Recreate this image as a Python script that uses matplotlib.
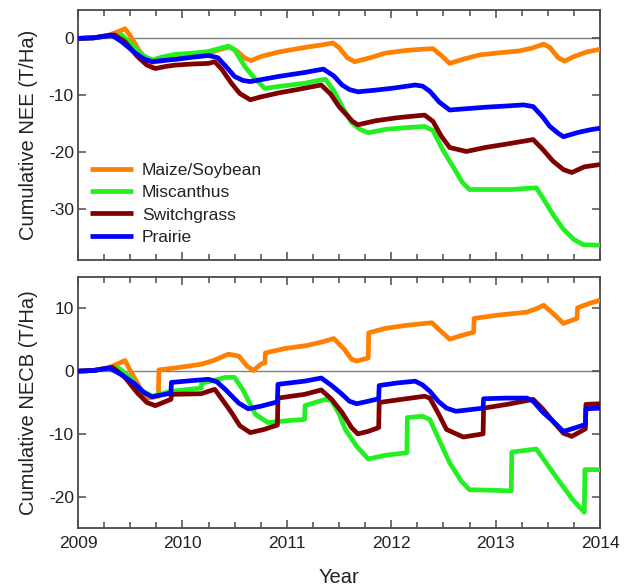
import matplotlib
matplotlib.use("Agg")
import matplotlib.pyplot as plt
from matplotlib.ticker import MultipleLocator, FixedLocator

plt.rcParams['font.family'] = ['Liberation Sans', 'DejaVu Sans']
plt.rcParams['axes.unicode_minus'] = False

series_names = ["Maize/Soybean", "Miscanthus", "Switchgrass", "Prairie"]
series_colors = ["#FF8000", "#22F022", "#800000", "#0000FF"]

# ---------------- Cumulative NEE (T/Ha) ----------------
maize_nee_t = [2009.00, 2009.15, 2009.30, 2009.40, 2009.45, 2009.50, 2009.58, 2009.65, 2009.72, 2009.80,
               2009.95, 2010.10, 2010.25, 2010.35, 2010.45, 2010.52, 2010.60, 2010.66, 2010.75, 2010.92,
               2011.17, 2011.35, 2011.44, 2011.50, 2011.58, 2011.65, 2011.80, 2011.94, 2012.15, 2012.30,
               2012.40, 2012.48, 2012.56, 2012.70, 2012.85, 2013.05, 2013.23, 2013.35, 2013.46, 2013.52,
               2013.60, 2013.66, 2013.75, 2013.87, 2014.00]
maize_nee_v = [0.0, 0.1, 0.6, 1.3, 1.7, 0.5, -2.0, -3.6, -4.2, -4.0,
               -3.4, -3.2, -2.6, -2.0, -1.5, -2.2, -3.5, -3.9, -3.2, -2.4,
               -1.6, -1.1, -0.8, -1.6, -3.4, -4.1, -3.4, -2.6, -2.1, -1.9,
               -1.8, -3.0, -4.4, -3.6, -2.9, -2.5, -2.2, -1.7, -1.0, -1.6,
               -3.4, -4.0, -3.2, -2.4, -1.9]

misc_nee_t = [2009.00, 2009.15, 2009.30, 2009.42, 2009.50, 2009.61, 2009.71, 2009.80, 2009.93, 2010.10,
              2010.25, 2010.35, 2010.44, 2010.50, 2010.60, 2010.70, 2010.79, 2010.95, 2011.17, 2011.30,
              2011.37, 2011.45, 2011.53, 2011.62, 2011.70, 2011.78, 2011.95, 2012.15, 2012.32, 2012.40,
              2012.50, 2012.60, 2012.68, 2012.75, 2012.90, 2013.15, 2013.30, 2013.39, 2013.45, 2013.55,
              2013.65, 2013.75, 2013.84, 2014.00]
misc_nee_v = [0.0, 0.1, 0.5, 0.6, -0.8, -2.9, -3.8, -3.3, -2.8, -2.6,
              -2.3, -1.8, -1.35, -2.0, -5.0, -7.2, -8.8, -8.4, -7.9, -7.4,
              -7.2, -9.2, -12.0, -14.8, -16.0, -16.6, -16.0, -15.7, -15.5, -16.2,
              -19.8, -22.8, -25.3, -26.6, -26.6, -26.6, -26.4, -26.3, -28.0, -31.0,
              -33.6, -35.4, -36.3, -36.4]

sg_nee_t = [2009.00, 2009.15, 2009.35, 2009.45, 2009.57, 2009.66, 2009.74, 2009.85, 2009.93, 2010.10,
            2010.25, 2010.31, 2010.38, 2010.47, 2010.55, 2010.65, 2010.75, 2010.92, 2011.10, 2011.33,
            2011.42, 2011.50, 2011.56, 2011.63, 2011.68, 2011.85, 2012.04, 2012.20, 2012.32, 2012.40,
            2012.48, 2012.56, 2012.72, 2012.90, 2013.07, 2013.20, 2013.36, 2013.45, 2013.55, 2013.65,
            2013.73, 2013.85, 2014.00]
sg_nee_v = [0.0, 0.1, 0.6, -0.6, -3.2, -4.7, -5.3, -4.9, -4.7, -4.5,
            -4.4, -4.1, -5.5, -7.9, -9.7, -10.8, -10.3, -9.6, -9.0, -8.2,
            -9.8, -12.0, -13.2, -14.6, -15.2, -14.5, -14.0, -13.7, -13.5, -14.6,
            -17.2, -19.2, -19.9, -19.2, -18.7, -18.3, -17.8, -19.5, -21.6, -23.1,
            -23.6, -22.6, -22.2]

pr_nee_t = [2009.00, 2009.15, 2009.32, 2009.42, 2009.55, 2009.63, 2009.71, 2009.80, 2009.93, 2010.10,
            2010.25, 2010.34, 2010.42, 2010.50, 2010.58, 2010.65, 2010.80, 2010.92, 2011.17, 2011.35,
            2011.45, 2011.53, 2011.60, 2011.68, 2011.85, 2012.00, 2012.23, 2012.30, 2012.37, 2012.46,
            2012.56, 2012.70, 2012.91, 2013.10, 2013.27, 2013.36, 2013.45, 2013.52, 2013.60, 2013.65,
            2013.78, 2013.90, 2014.00]
pr_nee_v = [0.0, 0.1, 0.6, -0.6, -2.6, -3.6, -4.1, -3.9, -3.7, -3.3,
            -3.0, -3.4, -5.0, -6.7, -7.4, -7.6, -7.1, -6.7, -6.0, -5.4,
            -6.6, -8.2, -9.0, -9.4, -9.1, -8.8, -8.2, -8.4, -9.3, -11.2,
            -12.6, -12.4, -12.1, -11.9, -11.7, -12.0, -13.8, -15.5, -16.7, -17.3,
            -16.6, -16.1, -15.8]

# ---------------- Cumulative NECB (T/Ha) ----------------
maize_necb_t = [2009.00, 2009.15, 2009.30, 2009.40, 2009.45, 2009.52, 2009.60, 2009.67, 2009.77, 2009.775,
                2009.93, 2010.18, 2010.30, 2010.44, 2010.54, 2010.62, 2010.68, 2010.76, 2010.79, 2010.795,
                2010.98, 2011.20, 2011.35, 2011.45, 2011.55, 2011.62, 2011.67, 2011.78, 2011.785, 2011.94,
                2012.15, 2012.32, 2012.39, 2012.48, 2012.56, 2012.70, 2012.79, 2012.795, 2013.01, 2013.30,
                2013.40, 2013.46, 2013.55, 2013.65, 2013.78, 2013.785, 2013.90, 2014.00]
maize_necb_v = [0.0, 0.1, 0.6, 1.3, 1.7, -0.5, -2.8, -4.3, -4.0, 0.2,
                0.5, 1.1, 1.7, 2.7, 2.4, 0.8, 0.1, 1.2, 1.3, 2.9,
                3.6, 4.1, 4.7, 5.2, 3.5, 1.9, 1.6, 2.1, 6.1, 6.8,
                7.3, 7.6, 7.7, 6.3, 5.1, 5.8, 6.2, 8.4, 8.9, 9.4,
                10.0, 10.5, 9.2, 7.6, 8.4, 10.1, 10.8, 11.3]

misc_necb_t = [2009.00, 2009.15, 2009.30, 2009.38, 2009.50, 2009.60, 2009.71, 2009.90, 2010.18, 2010.185,
               2010.30, 2010.41, 2010.50, 2010.58, 2010.70, 2010.82, 2011.00, 2011.17, 2011.175, 2011.37,
               2011.43, 2011.50, 2011.56, 2011.67, 2011.78, 2011.95, 2012.15, 2012.155, 2012.30, 2012.37,
               2012.46, 2012.56, 2012.67, 2012.75, 2013.00, 2013.15, 2013.155, 2013.30, 2013.39, 2013.50,
               2013.62, 2013.74, 2013.85, 2013.855, 2014.00]
misc_necb_v = [0.0, 0.1, 0.5, 0.6, -1.0, -3.0, -4.0, -3.2, -2.7, -1.9,
               -1.5, -1.0, -1.0, -3.0, -6.9, -8.2, -7.9, -7.7, -5.5, -4.5,
               -4.7, -6.8, -9.3, -12.0, -14.0, -13.4, -13.0, -7.4, -7.2, -7.7,
               -11.0, -14.6, -17.5, -18.9, -19.0, -19.1, -12.9, -12.6, -12.4, -15.0,
               -17.8, -20.5, -22.5, -15.7, -15.7]

sg_necb_t = [2009.00, 2009.15, 2009.33, 2009.45, 2009.57, 2009.66, 2009.74, 2009.89, 2009.895, 2010.18,
             2010.31, 2010.38, 2010.47, 2010.55, 2010.65, 2010.78, 2010.91, 2010.915, 2011.17, 2011.33,
             2011.43, 2011.53, 2011.62, 2011.68, 2011.78, 2011.88, 2011.885, 2012.10, 2012.32, 2012.37,
             2012.45, 2012.53, 2012.69, 2012.88, 2012.885, 2013.11, 2013.36, 2013.45, 2013.55, 2013.65,
             2013.73, 2013.86, 2013.865, 2014.00]
sg_necb_v = [0.0, 0.1, 0.6, -1.0, -3.5, -5.0, -5.5, -4.5, -3.7, -3.6,
             -2.9, -4.5, -6.6, -8.7, -9.8, -9.3, -8.6, -4.3, -3.7, -3.0,
             -4.5, -6.6, -9.0, -10.0, -9.6, -9.0, -5.0, -4.5, -4.0, -4.3,
             -6.7, -9.3, -10.5, -10.0, -5.9, -5.3, -4.5, -6.0, -8.0, -9.9,
             -10.4, -9.2, -5.3, -5.2]

pr_necb_t = [2009.00, 2009.15, 2009.30, 2009.42, 2009.55, 2009.63, 2009.71, 2009.89, 2009.895, 2010.10,
             2010.25, 2010.33, 2010.41, 2010.54, 2010.63, 2010.75, 2010.91, 2010.915, 2011.17, 2011.33,
             2011.43, 2011.53, 2011.60, 2011.67, 2011.78, 2011.88, 2011.885, 2012.05, 2012.23, 2012.30,
             2012.37, 2012.45, 2012.53, 2012.62, 2012.88, 2012.885, 2013.10, 2013.30, 2013.36, 2013.45,
             2013.55, 2013.65, 2013.75, 2013.86, 2013.865, 2014.00]
pr_necb_v = [0.0, 0.1, 0.5, -0.6, -2.1, -3.4, -4.1, -3.5, -1.8, -1.5,
             -1.3, -1.7, -2.9, -5.1, -6.0, -5.6, -4.9, -2.1, -1.6, -1.1,
             -2.3, -3.7, -4.8, -5.2, -4.8, -4.4, -2.3, -1.9, -1.6, -2.2,
             -3.2, -4.8, -5.9, -6.4, -5.9, -4.4, -4.3, -4.3, -4.8, -6.5,
             -8.0, -9.6, -9.1, -8.5, -6.0, -5.9]

year_ticks = [2009, 2010, 2011, 2012, 2013, 2014]
nee_ticks = [0, -10, -20, -30]
necb_ticks = [10, 0, -10, -20]

W, H = 632, 586
fig = plt.figure(figsize=(W / 100, H / 100), dpi=100)
ax1 = fig.add_axes([78 / W, 1 - 260 / H, 522 / W, 250 / H])
ax2 = fig.add_axes([78 / W, 1 - 528 / H, 522 / W, 251 / H])

spine_c = "#4a4a4a"
for ax in (ax1, ax2):
    ax.axhline(0, color="#808080", lw=1.0, zorder=1)
    for s in ax.spines.values():
        s.set_color(spine_c)
        s.set_linewidth(1.3)
    ax.set_xlim(2009, 2014)
    ax.xaxis.set_major_locator(FixedLocator(year_ticks))
    ax.xaxis.set_minor_locator(MultipleLocator(0.25))
    ax.tick_params(axis="both", which="major", direction="in", top=True, right=True,
                   length=6, width=1.1, color=spine_c, labelsize=12.5, labelcolor="#222222")
    ax.tick_params(axis="both", which="minor", direction="in", top=True, right=True,
                   length=4, width=1.1, color=spine_c)
    ax.tick_params(axis="y", pad=3)
    ax.tick_params(axis="x", pad=6)

nee = [(maize_nee_t, maize_nee_v), (misc_nee_t, misc_nee_v), (sg_nee_t, sg_nee_v), (pr_nee_t, pr_nee_v)]
necb = [(maize_necb_t, maize_necb_v), (misc_necb_t, misc_necb_v), (sg_necb_t, sg_necb_v), (pr_necb_t, pr_necb_v)]

for (t, v), name, c in zip(nee, series_names, series_colors):
    ax1.plot(t, v, color=c, lw=3.4, label=name, solid_joinstyle="round", solid_capstyle="butt", zorder=3)
for (t, v), name, c in zip(necb, series_names, series_colors):
    ax2.plot(t, v, color=c, lw=3.4, label=name, solid_joinstyle="round", solid_capstyle="butt", zorder=3)

ax1.set_ylim(-39, 5)
ax1.yaxis.set_major_locator(FixedLocator(nee_ticks))
ax1.tick_params(axis="x", labelbottom=False)
ax2.set_ylim(-25, 15)
ax2.yaxis.set_major_locator(FixedLocator(necb_ticks))

ax1.set_ylabel("Cumulative NEE (T/Ha)", fontsize=14.5, color="#222222", labelpad=8)
ax2.set_ylabel("Cumulative NECB (T/Ha)", fontsize=14.5, color="#222222", labelpad=8)
ax2.set_xlabel("Year", fontsize=14.5, color="#222222", labelpad=12)

leg = ax1.legend(loc="upper left", bbox_to_anchor=(0.023, 0.39), frameon=False,
                 fontsize=12.5, handlelength=2.5, handletextpad=0.5, labelspacing=0.42,
                 borderpad=0, borderaxespad=0)
for txt in leg.get_texts():
    txt.set_color("#222222")

fig.savefig("out.png", dpi=100)
